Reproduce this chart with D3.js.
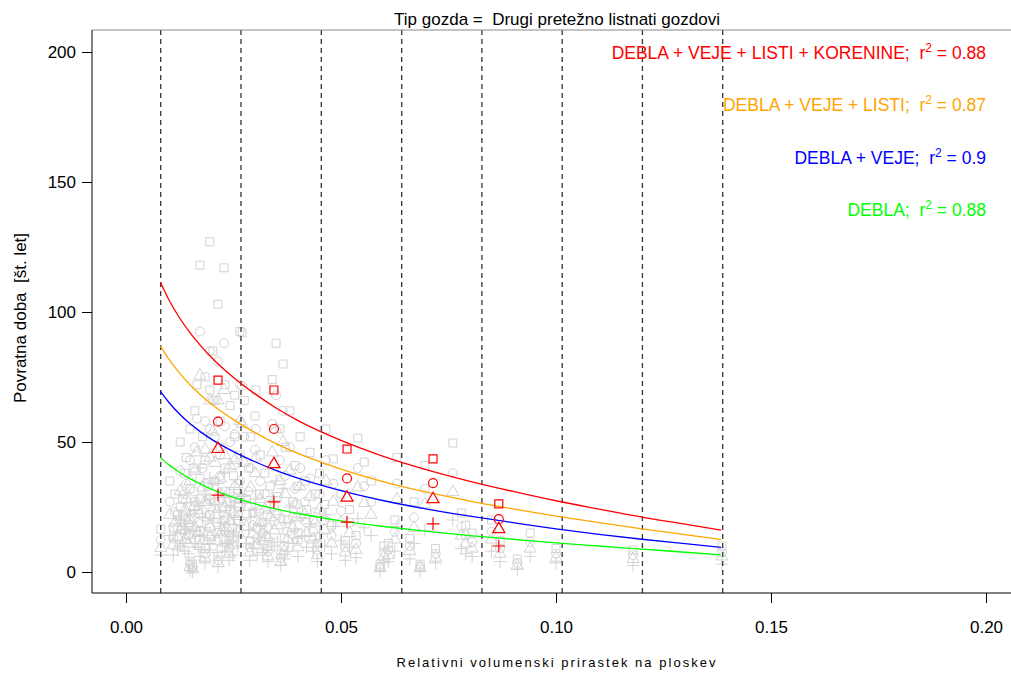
<!DOCTYPE html>
<html>
<head>
<meta charset="utf-8">
<script src="https://cdn.jsdelivr.net/npm/d3@7"></script>
<style>
  html, body { margin: 0; padding: 0; background: #fff; }
  svg { display: block; font-family: "Liberation Sans", Arial, sans-serif; }
  svg text { white-space: pre; }
</style>
</head>
<body>
<svg id="chart" width="1011" height="673"></svg>
<script>
// Relative volume increment per plot (x) and return period in years for four biomass pools.
const obsX = [
  0.0081, 0.0172, 0.0195, 0.0228, 0.0214, 0.0265, 0.0270, 0.0126, 0.0165, 0.0149,
  0.0137, 0.0160, 0.0184, 0.0195, 0.0207, 0.0219, 0.0230, 0.0242, 0.0253, 0.0114,
  0.0126, 0.0137, 0.0149, 0.0160, 0.0172, 0.0184, 0.0195, 0.0207, 0.0219, 0.0230,
  0.0242, 0.0253, 0.0265, 0.0149, 0.0155, 0.0214, 0.0184, 0.0240, 0.0172, 0.0230,
  0.0102, 0.0195, 0.0224, 0.0178, 0.0140, 0.0250, 0.0260, 0.0202,
  0.0349, 0.0365, 0.0340, 0.0300, 0.0290, 0.0312, 0.0323, 0.0335, 0.0358, 0.0370,
  0.0381, 0.0393, 0.0405, 0.0416, 0.0428, 0.0440, 0.0280, 0.0295, 0.0318, 0.0345,
  0.0375, 0.0400, 0.0420, 0.0450, 0.0330, 0.0360, 0.0288, 0.0310, 0.0388, 0.0445,
  0.0302, 0.0275,
  0.0465, 0.0539, 0.0482, 0.0554, 0.0630, 0.0500, 0.0520, 0.0478, 0.0510, 0.0600,
  0.0591, 0.0610, 0.0570, 0.0462, 0.0535, 0.0625,
  0.0695, 0.0684, 0.0760, 0.0780, 0.0790, 0.0660, 0.0720, 0.0805, 0.0670,
  0.0870, 0.0910, 0.0940, 0.1000, 0.0850,
  0.1179, 0.1386,
  0.0120, 0.0132, 0.0145, 0.0158, 0.0168, 0.0190, 0.0212, 0.0235, 0.0248, 0.0262,
  0.0285, 0.0305, 0.0328, 0.0352, 0.0368, 0.0398, 0.0435, 0.0110
];
// DEBLA + VEJE + LISTI + KORENINE (squares)
const obsKorenine = [
  16.5, 118, 127, 117, 103, 92.5, 92, 50, 72, 55,
  38, 62, 75, 70, 66, 58, 72, 64, 68, 30,
  25, 20, 32, 27, 36, 43, 22, 35, 48, 40,
  31, 52, 45, 4, 3, 6, 9, 12, 16, 20,
  35, 28, 25, 52, 44, 37, 25, 85,
  88, 80, 74, 60, 52, 45, 38, 33, 55, 48,
  62, 41, 52, 35, 46, 30, 28, 23, 19, 25,
  20, 15, 24, 38, 10, 7, 12, 30, 27, 11,
  70, 66,
  55, 51.5, 43.5, 42.3, 44, 30, 24, 18, 12, 10,
  3, 11, 35, 26, 14, 20,
  41, 3, 49.6, 22.7, 18, 13, 9, 15, 27,
  12, 5, 15, 9, 20,
  8.5, 10,
  22, 28, 18, 40, 24, 33, 19, 27, 17, 34,
  40, 17, 22, 29, 13, 33, 20, 17
];
// DEBLA + VEJE + LISTI (circles)
const obsListi = [
  12.3, 92.5, 85, 88, 81, 72, 71.5, 39, 59, 43,
  30, 48, 58, 55, 52, 45, 56, 50, 53, 23,
  20, 16, 25, 21, 28, 34, 17, 27, 37, 31,
  24, 41, 35, 3, 2, 4.5, 7, 9, 12.5, 15.5,
  27, 22, 19.5, 40, 34, 29, 19.5, 66,
  68, 62, 57, 47, 40, 35, 30, 26, 43, 37,
  48, 32, 40, 27, 36, 23, 22, 18, 15, 19.5,
  15.5, 12, 19, 30, 8, 5.5, 9.5, 23.5, 21, 8.5,
  55, 52,
  43, 40, 34, 33, 34, 23.5, 19, 14, 9.5, 7.5,
  2, 8.5, 27, 20, 11, 15.5,
  32, 2.2, 38, 17.5, 14, 10, 7, 11.5, 21,
  9, 3.5, 11.5, 7, 15.5,
  6.5, 7.5,
  17, 22, 14, 31, 19, 26, 15, 21, 13, 26.5,
  31, 13, 17, 22.5, 10, 26, 15.5, 13
];
// DEBLA + VEJE (triangles)
const obsVeje = [
  9.2, 75.5, 66, 70, 66, 58, 57, 31, 46, 35,
  24, 39, 47, 44, 42, 36, 45, 41, 43, 19,
  16, 12.5, 20, 17, 22.5, 27, 13.5, 22, 30, 25,
  19.5, 33, 28, 2, 1, 3.5, 5.5, 7, 10, 12.5,
  22, 17.5, 16, 32.5, 28, 23, 15.5, 54,
  55, 50, 46, 38, 32.5, 28, 24, 21, 35, 30,
  39, 26, 33, 22, 29, 19, 17.5, 14.5, 12, 16,
  12.5, 9.5, 15, 24, 6, 4, 7.5, 19, 17, 6.5,
  44, 42,
  35, 32.5, 27, 26.5, 28, 19, 15, 11, 7.5, 6,
  1.5, 6.5, 22, 16, 8.5, 12.5,
  26, 1.5, 30.8, 14, 11, 8, 5.5, 9, 17,
  7, 2.5, 9, 5.5, 12.5,
  5, 6,
  13.5, 17.5, 11, 25, 15, 21, 12, 17, 10.5, 21.5,
  25, 10.5, 13.5, 18, 8, 21, 12.5, 10.5
];
// DEBLA (plus signs)
const obsDebla = [
  6.5, 40, 36, 38, 34, 30, 29, 20, 27, 22,
  15, 24, 30, 28, 26, 23, 29, 25, 27, 12,
  10, 8, 13, 11, 14, 17, 8.5, 14, 19, 16,
  12, 21, 18, 0.5, 0, 2, 3.5, 4.5, 6, 8,
  14, 11, 10, 21, 17.5, 15, 10, 34,
  35, 32, 29, 24, 21, 18, 15, 13, 22, 19,
  25, 16.5, 21, 14, 18.5, 12, 11, 9, 7.5, 10,
  8, 6, 9.5, 15, 4, 2.5, 4.5, 12, 11, 4,
  28, 26.5,
  22, 20.5, 17.5, 17, 17.5, 12, 9.5, 7, 4.5, 3.5,
  0.5, 4, 14, 10, 5.5, 8,
  16, 0.5, 20, 9, 7, 5, 3.5, 6, 11,
  4, 1, 6, 3.5, 8,
  2.5, 3,
  8.5, 11, 7, 16, 9.5, 13, 7.5, 11, 6.5, 13.5,
  16, 6.5, 8.5, 11.5, 5, 13, 8, 6.5
];

// Class summaries per increment class
const classX = [0.0214, 0.0344, 0.0514, 0.0714, 0.0867];
const classKorenine = [73.8, 70, 47.3, 43.5, 26.2];
const classListi = [57.8, 55, 36, 34.2, 20.3];
const classVeje = [47.3, 41.5, 28.6, 28, 16.5];
const classDebla = [29.6, 27, 19.2, 18.5, 10];

// Class boundaries
const classBreaks = [0.00807, 0.02674, 0.04542, 0.06412, 0.08277, 0.10144, 0.1201, 0.13877];

// Fitted curves, read at these increments
const fitX = [0.008, 0.010, 0.0125, 0.015, 0.0175, 0.020, 0.025, 0.030, 0.035, 0.040,
              0.050, 0.060, 0.070, 0.080, 0.090, 0.100, 0.110, 0.120, 0.130, 0.1384];
const fitKorenine = [111.5, 104.6, 97.6, 91.8, 86.8, 82.3, 74.8, 68.5, 63, 58.2,
                     50.6, 44.4, 39.3, 34.9, 31, 27.4, 24.2, 21.1, 18.4, 16.1];
const fitListi = [87, 81.8, 76.4, 71.8, 67.9, 64.4, 58.6, 53.6, 49.3, 45.6,
                  39.6, 34.7, 30.7, 27.3, 24.3, 21.5, 19, 16.6, 14.4, 12.5];
const fitVeje = [69.5, 65.2, 60.7, 56.9, 53.7, 50.9, 46.3, 42.4, 39, 36.1,
                 31.3, 27.4, 24.2, 21.5, 19, 16.6, 14.5, 12.6, 10.9, 9.5];
const fitDebla = [44, 41.2, 38.3, 35.8, 33.7, 31.8, 28.7, 26.2, 24.2, 22.5,
                  19.7, 17.5, 15.6, 14, 12.6, 11.2, 10, 8.8, 7.6, 6.6];

const xTicks = [0, 0.05, 0.10, 0.15, 0.20];
const yTicks = [0, 50, 100, 150, 200];

const legendLabels = ["DEBLA + VEJE + LISTI + KORENINE", "DEBLA + VEJE + LISTI", "DEBLA + VEJE", "DEBLA"];
const legendR2 = ["0.88", "0.87", "0.9", "0.88"];
const legendColors = ["#ff0000", "#ffa500", "#0000ff", "#00ff00"];

const titleText = "Tip gozda =  Drugi pretežno listnati gozdovi";
const xLabel = "Relativni volumenski prirastek na ploskev";
const yLabel = "Povratna doba  [št. let]";

// ---- layout ----
const svg = d3.select("#chart");
const plotLeft = 92, plotRight = 1011, plotTop = 30, plotBottom = 593;
const x = d3.scaleLinear().domain([0, 0.2]).range([126, 986]);
const y = d3.scaleLinear().domain([0, 200]).range([572, 52]);

const R = 4.5;
function markerPath(kind, cx, cy) {
  const p = d3.path();
  if (kind === "square") {
    const h = R * 0.886;
    p.rect(cx - h, cy - h, 2 * h, 2 * h);
  } else if (kind === "circle") {
    p.moveTo(cx + R, cy);
    p.arc(cx, cy, R, 0, 2 * Math.PI);
  } else if (kind === "triangle") {
    const r = 1.555 * R, yc = 0.778 * R, xc = 1.347 * R;
    p.moveTo(cx, cy - r);
    p.lineTo(cx + xc, cy + yc);
    p.lineTo(cx - xc, cy + yc);
    p.closePath();
  } else {
    const h = 1.414 * R;
    p.moveTo(cx - h, cy); p.lineTo(cx + h, cy);
    p.moveTo(cx, cy - h); p.lineTo(cx, cy + h);
  }
  return p.toString();
}

// grey observations
const grey = svg.append("g").attr("fill", "none").attr("stroke", "#d3d3d3").attr("stroke-width", 1);
const pools = [["square", obsKorenine], ["circle", obsListi], ["triangle", obsVeje], ["plus", obsDebla]];
obsX.forEach((xv, i) => {
  pools.forEach(([kind, arr]) => {
    grey.append("path").attr("d", markerPath(kind, x(xv), y(arr[i])));
  });
});

// class boundaries
svg.append("g").selectAll("line").data(classBreaks).join("line")
  .attr("x1", d => x(d)).attr("x2", d => x(d))
  .attr("y1", plotTop).attr("y2", plotBottom)
  .attr("stroke", "#333").attr("stroke-width", 1.3).attr("stroke-dasharray", "5,4");

// fitted curves
const fits = [[fitKorenine, legendColors[0]], [fitListi, legendColors[1]], [fitVeje, legendColors[2]], [fitDebla, legendColors[3]]];
const line = d3.line().x((d, i) => x(fitX[i])).y(d => y(d)).curve(d3.curveMonotoneX);
fits.forEach(([vals, col]) => {
  svg.append("path").datum(vals).attr("d", line)
    .attr("fill", "none").attr("stroke", col).attr("stroke-width", 1.3);
});

// class summaries
const red = svg.append("g").attr("fill", "none").attr("stroke", "#ff0000").attr("stroke-width", 1.2);
const classPools = [["square", classKorenine], ["circle", classListi], ["triangle", classVeje], ["plus", classDebla]];
classX.forEach((xv, i) => {
  classPools.forEach(([kind, arr]) => {
    red.append("path").attr("d", markerPath(kind, x(xv), y(arr[i])));
  });
});

// axes frame
svg.append("line").attr("x1", plotLeft).attr("x2", plotRight).attr("y1", plotTop).attr("y2", plotTop)
  .attr("stroke", "#888").attr("stroke-width", 1);
svg.append("line").attr("x1", plotLeft).attr("x2", plotLeft).attr("y1", plotTop).attr("y2", plotBottom)
  .attr("stroke", "#000").attr("stroke-width", 1);
svg.append("line").attr("x1", plotLeft).attr("x2", plotRight).attr("y1", plotBottom).attr("y2", plotBottom)
  .attr("stroke", "#000").attr("stroke-width", 1);

const yAxis = d3.axisLeft(y).tickValues(yTicks).tickFormat(d3.format("d")).tickSize(10).tickPadding(6);
const ga = svg.append("g").attr("transform", `translate(${plotLeft},0)`).call(yAxis);
ga.select(".domain").remove();
ga.selectAll("text").attr("font-size", 17).attr("font-family", "Liberation Sans, Arial, sans-serif").attr("fill", "#000");

const xAxis = d3.axisBottom(x).tickValues(xTicks).tickFormat(d3.format(".2f")).tickSize(10).tickPadding(18);
const gx = svg.append("g").attr("transform", `translate(0,${plotBottom})`).call(xAxis);
gx.select(".domain").remove();
gx.selectAll("text").attr("font-size", 17).attr("font-family", "Liberation Sans, Arial, sans-serif").attr("fill", "#000");

// titles
svg.append("text").attr("x", 557).attr("y", 25).attr("text-anchor", "middle")
  .attr("font-size", 17).text(titleText);
svg.append("text").attr("x", 556).attr("y", 667).attr("text-anchor", "middle")
  .attr("font-size", 13).attr("textLength", 319).attr("lengthAdjust", "spacing").text(xLabel);
svg.append("text").attr("transform", "translate(26,318) rotate(-90)").attr("text-anchor", "middle")
  .attr("font-size", 17).text(yLabel);

// legend with r^2
const legendY = [59, 111, 164, 216];
legendLabels.forEach((lab, i) => {
  const t = svg.append("text").attr("x", 986).attr("y", legendY[i]).attr("text-anchor", "end")
    .attr("font-size", 17.5).attr("fill", legendColors[i]);
  t.append("tspan").text(lab + ";  r");
  t.append("tspan").attr("dy", -7).attr("font-size", 12).text("2");
  t.append("tspan").attr("dy", 7).text(" = " + legendR2[i]);
});
</script>
</body>
</html>
